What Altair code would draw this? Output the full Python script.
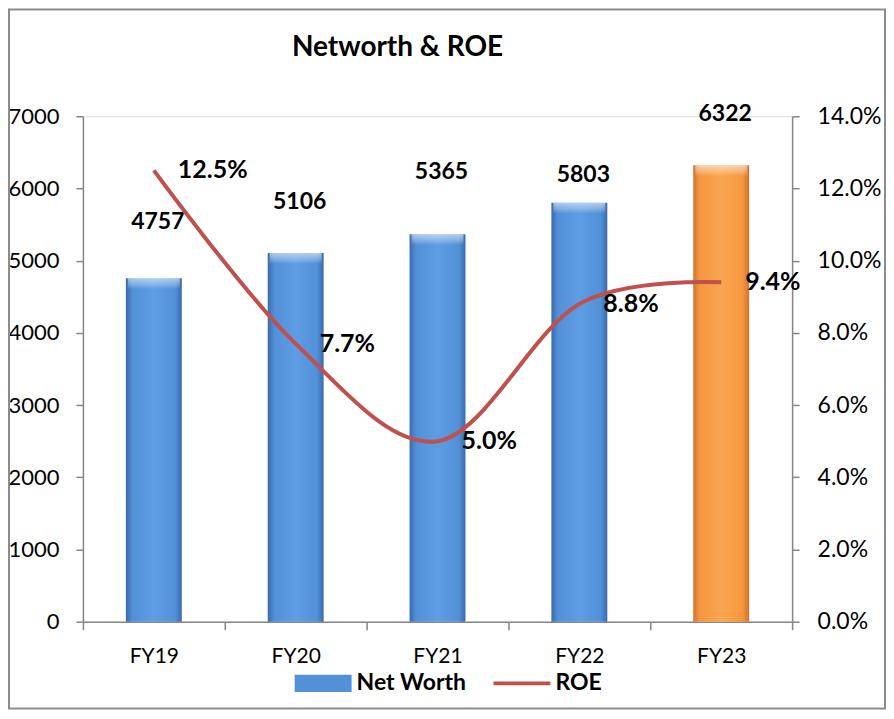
import altair as alt
import pandas as pd

# ---- data ----
years = ["FY19", "FY20", "FY21", "FY22", "FY23"]
net_worth = [4757, 5106, 5365, 5803, 6322]
net_worth_label_pos = [5534, 5810, 6225, 6184, 7035]
roe = [0.125, 0.077, 0.050, 0.088, 0.094]
roe_labels = ["12.5%", "7.7%", "5.0%", "8.8%", "9.4%"]
series = ["Net Worth", "ROE"]
highlight_year = "FY23"

df = pd.DataFrame({
    "year": years,
    "nw": net_worth,
    "nw_pos": net_worth_label_pos,
    "nw_text": [str(v) for v in net_worth],
    "roe": roe,
    "roe_text": roe_labels,
})
leg_df = pd.DataFrame({"series": series})

FONT = "Lato"
GRAY = "#868686"
RED = "#C0504D"

x_enc = alt.X(
    "year:N", sort=years,
    scale=alt.Scale(paddingInner=0, paddingOuter=0),
    axis=alt.Axis(title=None, labelFont=FONT, labelFontSize=21, labelColor="black",
                  labelAngle=0, tickBand="extent", tickSize=8, tickColor=GRAY,
                  tickWidth=1.5, domainColor=GRAY, domainWidth=1.5, labelPadding=16),
)

nw_scale = alt.Scale(domain=[0, 7000], nice=False)
left_axis = alt.Axis(title=None, orient="left", values=list(range(0, 7001, 1000)), format="d",
                     labelFont=FONT, labelFontSize=22, labelColor="black", tickSize=7,
                     tickColor=GRAY, tickWidth=1.5, domainColor=GRAY, domainWidth=1.5,
                     labelPadding=17, grid=False)
roe_scale = alt.Scale(domain=[0, 0.14], nice=False)
right_axis = alt.Axis(title=None, orient="right", values=[0, 0.02, 0.04, 0.06, 0.08, 0.10, 0.12, 0.14],
                      format=".1%", labelFont=FONT, labelFontSize=23, labelColor="black", tickSize=7,
                      tickColor=GRAY, tickWidth=1.5, domainColor=GRAY, domainWidth=1.5,
                      labelPadding=18, grid=False)


def hgrad(edge, mid, center):
    return alt.LinearGradient(
        gradient="linear", x1=0, x2=1, y1=0, y2=0,
        stops=[alt.GradientStop(color=edge, offset=0),
               alt.GradientStop(color=mid, offset=0.12),
               alt.GradientStop(color=center, offset=0.5),
               alt.GradientStop(color=mid, offset=0.88),
               alt.GradientStop(color=edge, offset=1)])


blue_grad = hgrad("#3A6BAB", "#5290D8", "#5E9DE3")
orange_grad = hgrad("#D17330", "#F4973F", "#FBA552")
bevel_grad = alt.LinearGradient(
    gradient="linear", x1=0, x2=0, y1=0, y2=1,
    stops=[alt.GradientStop(color="rgba(255,255,255,0.55)", offset=0),
           alt.GradientStop(color="rgba(255,255,255,0.25)", offset=0.6),
           alt.GradientStop(color="rgba(255,255,255,0)", offset=1)])

base = alt.Chart(df)

bars_blue = base.transform_filter(alt.datum.year != highlight_year).mark_bar(
    size=56, color=blue_grad).encode(x=x_enc, y=alt.Y("nw:Q", scale=nw_scale, axis=left_axis))
bars_orange = base.transform_filter(alt.datum.year == highlight_year).mark_bar(
    size=56, color=orange_grad).encode(x=x_enc, y=alt.Y("nw:Q", scale=nw_scale, axis=left_axis))
bevel = base.transform_calculate(bevel_bottom="datum.nw - 150").mark_bar(
    size=52, color=bevel_grad).encode(
    x=x_enc, y=alt.Y("nw:Q", scale=nw_scale, axis=left_axis), y2="bevel_bottom:Q")
bar_text = base.mark_text(font=FONT, fontSize=23, fontWeight="bold", color="black",
                          dx=4, baseline="middle").encode(
    x=x_enc, y=alt.Y("nw_pos:Q", scale=nw_scale, axis=left_axis), text="nw_text:N")

bars_layer = alt.layer(bars_blue, bars_orange, bevel, bar_text)

line = base.mark_line(color=RED, strokeWidth=4, interpolate="cardinal").encode(
    x=x_enc, y=alt.Y("roe:Q", scale=roe_scale, axis=right_axis))
roe_text = base.mark_text(font=FONT, fontSize=25, fontWeight="bold", color="black",
                          align="left", dx=24, baseline="middle").encode(
    x=x_enc, y=alt.Y("roe:Q", scale=roe_scale, axis=right_axis), text="roe_text:N")

line_layer = alt.layer(line, roe_text)

rect_path = "M-1,-0.3H1V0.3H-1Z"
line_path = "M-1,-0.07H1V0.07H-1Z"
leg = alt.Legend(title=None, orient="none", legendX=212, legendY=539, direction="horizontal",
                 labelFont=FONT, labelFontSize=23, labelFontWeight="bold", labelColor="black",
                 symbolSize=3249, symbolOpacity=1, symbolStrokeWidth=0, labelOffset=5,
                 columnPadding=27, padding=0)
legend_layer = alt.Chart(leg_df).mark_point(filled=True, opacity=0).encode(
    color=alt.Color("series:N", scale=alt.Scale(domain=series, range=["#5290D8", RED]), legend=leg),
    shape=alt.Shape("series:N", scale=alt.Scale(domain=series, range=[rect_path, line_path]), legend=leg),
)

frame = alt.Chart(pd.DataFrame({"k": [0]})).mark_rect(
    filled=False, stroke="#8C8C8C", strokeWidth=2).encode(
    x=alt.value(-74), x2=alt.value(803), y=alt.value(-107), y2=alt.value(593))

chart = alt.layer(frame, bars_layer, line_layer, legend_layer).resolve_scale(
    y="independent"
).properties(
    width=710, height=506,
    autosize=alt.AutoSizeParams(type="none"),
    padding={"left": 75, "top": 108, "right": 94, "bottom": 88},
    title=alt.TitleParams("Networth & ROE", font=FONT, fontSize=28, fontWeight="bold",
                          color="black", anchor="middle", frame="group", dx=-40,
                          baseline="alphabetic", offset=-76),
).configure_view(stroke=None).configure(background="white")

chart.save("out.html", embed_options={"renderer": "svg", "actions": False})
